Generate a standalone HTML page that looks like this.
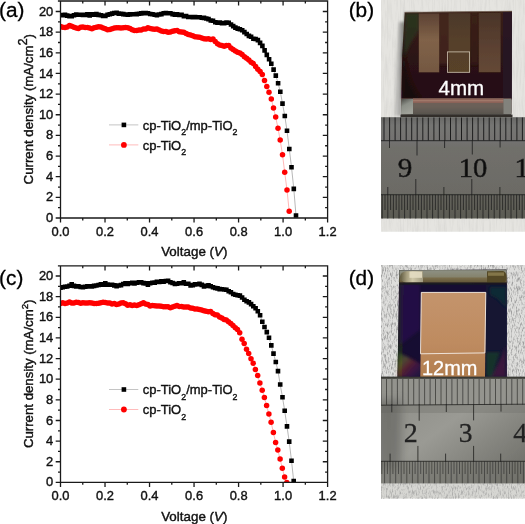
<!DOCTYPE html>
<html><head><meta charset="utf-8"><title>Figure</title>
<style>
html,body{margin:0;padding:0;background:#fff;}
svg{display:block;}
text{font-family:"Liberation Sans",sans-serif;fill:#111;}
.tk text{font-size:13.6px;stroke:#111;stroke-width:0.4px;}
.lb{font-size:13px;stroke:#111;stroke-width:0.4px;}
.lg{font-size:13.6px;stroke:#111;stroke-width:0.4px;}
.pl{font-size:21px;fill:#000;stroke:#000;stroke-width:0.3px;}
</style></head><body>
<svg width="525" height="524" viewBox="0 0 525 524">
<defs><clipPath id="ca"><rect x="60.5" y="1.2" width="267" height="216.8"/></clipPath><clipPath id="cc"><rect x="60.5" y="266" width="267" height="216.4"/></clipPath></defs>
<rect width="525" height="524" fill="#fff"/>
<defs>
<clipPath id="cpb"><rect x="381" y="0" width="144" height="231.7"/></clipPath>
<clipPath id="cpd"><rect x="381" y="264.9" width="144" height="233.5"/></clipPath>
<filter id="b1" x="-10%" y="-10%" width="120%" height="120%"><feGaussianBlur stdDeviation="0.6"/></filter>
<filter id="b0" x="-5%" y="-5%" width="110%" height="110%"><feGaussianBlur stdDeviation="0.35"/></filter>
<filter id="b2" x="-20%" y="-20%" width="140%" height="140%"><feGaussianBlur stdDeviation="1.6"/></filter>
<filter id="b4" x="-30%" y="-30%" width="160%" height="160%"><feGaussianBlur stdDeviation="4"/></filter>
<filter id="paperb" x="0" y="0" width="100%" height="100%"><feTurbulence type="fractalNoise" baseFrequency="0.55 0.05" numOctaves="2" seed="3" result="n"/><feColorMatrix in="n" type="matrix" values="0 0 0 0 0.45  0 0 0 0 0.45  0 0 0 0 0.43  0.9 0 0 0 -0.38"/></filter>
<filter id="paperd" x="0" y="0" width="100%" height="100%"><feTurbulence type="fractalNoise" baseFrequency="0.8 0.22" numOctaves="3" seed="7" result="n"/><feColorMatrix in="n" type="matrix" values="0 0 0 0 0.3  0 0 0 0 0.3  0 0 0 0 0.3  3.2 0 0 0 -1.45"/></filter>
<linearGradient id="gs1" x1="0" y1="0" x2="0" y2="1"><stop offset="0" stop-color="#5c4234"/><stop offset="0.45" stop-color="#806248"/><stop offset="1" stop-color="#745842"/></linearGradient>
<linearGradient id="gs2" x1="0" y1="0" x2="0" y2="1"><stop offset="0" stop-color="#4c382a"/><stop offset="0.5" stop-color="#56402a"/><stop offset="1" stop-color="#584228"/></linearGradient>
<linearGradient id="gs3" x1="0" y1="0" x2="0" y2="1"><stop offset="0" stop-color="#4a3428"/><stop offset="0.6" stop-color="#5c4232"/><stop offset="1" stop-color="#644836"/></linearGradient>
<linearGradient id="gdev" x1="0" y1="0" x2="0" y2="1"><stop offset="0" stop-color="#3a2018"/><stop offset="0.5" stop-color="#2a1212"/><stop offset="1" stop-color="#220c12"/></linearGradient>
<linearGradient id="gshl" x1="0" y1="0" x2="1" y2="0"><stop offset="0" stop-color="#8c8c8a" stop-opacity="0.15"/><stop offset="1" stop-color="#767674" stop-opacity="0.95"/></linearGradient>
<linearGradient id="grb" x1="0" y1="0" x2="0" y2="1"><stop offset="0" stop-color="#686866"/><stop offset="0.08" stop-color="#757573"/><stop offset="0.24" stop-color="#737270"/><stop offset="0.3" stop-color="#706f6b"/><stop offset="0.75" stop-color="#6c6b65"/><stop offset="0.78" stop-color="#63625b"/><stop offset="1" stop-color="#5b5b53"/></linearGradient>
<linearGradient id="grd" x1="0" y1="0" x2="1" y2="1"><stop offset="0" stop-color="#8a8a84"/><stop offset="0.45" stop-color="#9a9a94"/><stop offset="1" stop-color="#6a6a64"/></linearGradient>
<linearGradient id="gcu" x1="0" y1="0" x2="0" y2="1"><stop offset="0" stop-color="#c4946c"/><stop offset="0.6" stop-color="#be8b60"/><stop offset="1" stop-color="#b27e4e"/></linearGradient>
<linearGradient id="gtop" x1="0" y1="0" x2="0" y2="1"><stop offset="0" stop-color="#74766a"/><stop offset="0.15" stop-color="#8c8e80"/><stop offset="0.5" stop-color="#86846e"/><stop offset="0.62" stop-color="#786c4a"/><stop offset="0.88" stop-color="#65583a"/><stop offset="1" stop-color="#2e2a22"/></linearGradient>
<linearGradient id="gtl" x1="0" y1="0" x2="1" y2="0"><stop offset="0" stop-color="#5e583e"/><stop offset="0.3" stop-color="#a8a080"/><stop offset="0.55" stop-color="#cfc7a8"/><stop offset="1" stop-color="#a29c82"/></linearGradient>
<linearGradient id="grain" x1="0" y1="0" x2="1" y2="1"><stop offset="0" stop-color="#1a5a30"/><stop offset="0.3" stop-color="#a0a030"/><stop offset="0.5" stop-color="#b04030"/><stop offset="0.7" stop-color="#702060"/><stop offset="1" stop-color="#201850"/></linearGradient>
<linearGradient id="ggl" x1="0" y1="0" x2="0" y2="1"><stop offset="0" stop-color="#726058"/><stop offset="0.5" stop-color="#6a6058"/><stop offset="1" stop-color="#55524c"/></linearGradient>
<linearGradient id="gcl" x1="0" y1="0" x2="0.4" y2="1"><stop offset="0" stop-color="#4a4a46"/><stop offset="0.45" stop-color="#8c9088"/><stop offset="1" stop-color="#a0a29a"/></linearGradient>
</defs>
<g clip-path="url(#cpb)">
<rect x="381" y="0" width="144" height="232" fill="#e5e4e0"/>
<rect x="381" y="0" width="144" height="232" filter="url(#paperb)" opacity="0.55"/>
<path d="M399 22L405 22L402 116L393.5 116Z" fill="url(#gshl)" filter="url(#b2)"/>
<g filter="url(#b1)">
<path d="M404.7 12.2L512 11L511.4 113.5L401 114.2L402.2 55Z" fill="url(#gdev)"/>
<rect x="438" y="14" width="12" height="50" fill="#4a2a20" opacity="0.7" filter="url(#b2)"/>
<rect x="470" y="14" width="9" height="50" fill="#3a2018" opacity="0.6" filter="url(#b2)"/>
<path d="M405 13L419 13L419 30Q409 45 403 60Z" fill="#2a3420" opacity="0.8" filter="url(#b2)"/>
<path d="M403 40Q404 80 420 99L402 99Z" fill="#160808" opacity="0.8" filter="url(#b2)"/>
<rect x="418.8" y="13.5" width="20.4" height="58.8" fill="url(#gs1)"/>
<rect x="448.6" y="13.2" width="21.6" height="59" fill="url(#gs2)"/>
<rect x="478.8" y="13" width="21.8" height="59.2" fill="url(#gs3)"/>
<path d="M404.7 12.4L512 11.2" stroke="#7a6a5c" stroke-width="0.9" opacity="0.8"/>
<rect x="503" y="12" width="9" height="88" fill="#281422" opacity="0.9"/>
<path d="M401 98.6L511.5 98.2L511.4 115L401 115.4Z" fill="url(#ggl)"/>
<rect x="413" y="98.4" width="90.5" height="4.6" fill="#8c6458"/>
<rect x="413" y="100.2" width="90.5" height="1.1" fill="#ae8676" opacity="0.8"/>
<path d="M401.5 99L413 99L413 114L401 114.6Z" fill="url(#gcl)"/>
<path d="M503.5 99L511.5 99L511.4 114L503.5 114Z" fill="#82827c"/>
<rect x="400.5" y="114.6" width="112" height="2.8" fill="#302f2b"/>
</g>
<rect x="447.4" y="51.9" width="22.2" height="20.4" fill="none" stroke="#cfc5b2" stroke-width="0.8"/>
<g filter="url(#b0)">
<rect x="381" y="117.2" width="144" height="101.3" fill="url(#grb)"/>
<path d="M378.5 117.5V140.6M384.0 117.5V140.6M389.6 117.5V140.6M395.1 117.5V140.6M400.6 117.5V140.6M406.2 117.5V140.6M411.7 117.5V140.6M417.2 117.5V140.6M422.8 117.5V140.6M428.3 117.5V140.6M433.9 117.5V140.6M439.4 117.5V140.6M444.9 117.5V140.6M450.5 117.5V140.6M456.0 117.5V140.6M461.5 117.5V140.6M467.1 117.5V140.6M472.6 117.5V140.6M478.1 117.5V140.6M483.7 117.5V140.6M489.2 117.5V140.6M494.7 117.5V140.6M500.3 117.5V140.6M505.8 117.5V140.6M511.3 117.5V140.6M516.9 117.5V140.6M522.4 117.5V140.6" stroke="#161616" stroke-width="1.0" opacity="0.9"/>
<path d="M381 140.7H525" stroke="#1c1c1c" stroke-width="1" opacity="0.85"/>
<path d="M389.5 140V148M444.6 140V148M500.1 140V147.5M417 140V155.5M472.3 140V154.5" stroke="#222" stroke-width="1" opacity="0.85"/>
<path d="M376.6 194.7V218.5M379.4 194.7V210M382.2 194.7V218.5M385.0 194.7V210M387.8 194.7V218.5M390.6 194.7V210M393.4 194.7V218.5M396.2 194.7V210M399.0 194.7V218.5M401.8 194.7V210M404.6 194.7V218.5M407.4 194.7V210M410.2 194.7V218.5M413.0 194.7V210M415.8 194.7V218.5M418.6 194.7V210M421.4 194.7V218.5M424.2 194.7V210M427.0 194.7V218.5M429.8 194.7V210M432.6 194.7V218.5M435.4 194.7V210M438.2 194.7V218.5M441.0 194.7V210M443.8 194.7V218.5M446.6 194.7V210M449.4 194.7V218.5M452.2 194.7V210M455.0 194.7V218.5M457.8 194.7V210M460.6 194.7V218.5M463.4 194.7V210M466.2 194.7V218.5M469.0 194.7V210M471.8 194.7V218.5M474.6 194.7V210M477.4 194.7V218.5M480.2 194.7V210M483.0 194.7V218.5M485.8 194.7V210M488.6 194.7V218.5M491.4 194.7V210M494.2 194.7V218.5M497.0 194.7V210M499.8 194.7V218.5M502.6 194.7V210M505.4 194.7V218.5M508.2 194.7V210M511.0 194.7V218.5M513.8 194.7V210M516.6 194.7V218.5M519.4 194.7V210M522.2 194.7V218.5M525.0 194.7V210" stroke="#1c1c1c" stroke-width="0.95" opacity="0.8"/>
<path d="M381 194.7H525" stroke="#1c1c1c" stroke-width="1.1" opacity="0.85"/>
<path d="M387.8 187V195M443.9 187V195M499.9 187V195M415.8 179V195M471.8 179V195" stroke="#222" stroke-width="1" opacity="0.85"/>
</g>
<g font-family="'Liberation Serif',serif" font-size="26.5" fill="#1a1a1a" filter="url(#b1)">
<text transform="translate(405.1 177) scale(1.1 1)" text-anchor="middle" style="font-family:'Liberation Serif',serif;stroke:#1a1a1a;stroke-width:0.5px">9</text>
<text transform="translate(473.0 177) scale(1.08 1)" text-anchor="middle" style="font-family:'Liberation Serif',serif;stroke:#1a1a1a;stroke-width:0.5px">10</text>
<text transform="translate(514.5 177) scale(1.1 1)" style="font-family:'Liberation Serif',serif;stroke:#1a1a1a;stroke-width:0.5px">1</text>
</g>
<text x="438.6" y="95.4" font-size="20" style="fill:#fff" textLength="45.6" stroke="#fff" stroke-width="0.3" lengthAdjust="spacingAndGlyphs">4mm</text>
</g>
<g clip-path="url(#cpd)">
<rect x="381" y="264" width="144" height="236" fill="#dededc"/>
<rect x="381" y="264" width="144" height="236" filter="url(#paperd)" opacity="0.85"/>
<g filter="url(#b1)">
<path d="M399.4 270.2L506.7 269.4L506.7 377.5L397.5 377.5Z" fill="#170d30"/>
<path d="M399.4 270L404 270L402 377L397.5 377Z" fill="#202820" opacity="0.9"/>
<path d="M486 284L506.7 284L506.7 377L486 377Z" fill="#131332"/>
<path d="M490 287L506 287L506 308Q499 298 490 295Z" fill="#0e3636" opacity="0.7" filter="url(#b2)"/>
<path d="M400 284L420 284L420 330L400 345Z" fill="#2a1052" opacity="0.6" filter="url(#b2)"/>
<path d="M398 352L421 364L421 377L397.5 377Z" fill="url(#grain)" opacity="0.4" filter="url(#b2)"/>
<path d="M505 345Q500 365 488 377L506 377Z" fill="#6a2048" opacity="0.45" filter="url(#b2)"/>
<path d="M486 352L500 352L492 377L486 377Z" fill="#14402c" opacity="0.7" filter="url(#b2)"/>
<path d="M399.4 270.2L506.7 269.4L506.7 283.6L399.4 283.8Z" fill="url(#gtop)"/>
<path d="M400 277Q400.5 272 406 271.2L423 271L423 282.2L406 282.4Q400.5 282 400 277Z" fill="url(#gtl)"/>
<rect x="409.5" y="271.6" width="12.5" height="6.2" fill="#e4dcc2" opacity="0.9" filter="url(#b1)"/>
<path d="M487 271.2L503 271Q506.5 272 506.5 277Q506.5 282 503 282.8L487 282.8Z" fill="#544a26"/>
<rect x="488" y="272.4" width="16" height="3.4" fill="#8c7e50" opacity="0.85" filter="url(#b1)"/>
<rect x="399.4" y="282.4" width="107.3" height="2.4" fill="#1c1820" opacity="0.8"/>
<path d="M421.2 292.3L485.9 292.3L485 377.5L420.3 377.5Z" fill="url(#gcu)"/>
</g>
<path d="M421.3 292.4L485.8 292.4L484.9 352.9L420.5 353.8Z" fill="none" stroke="#f4ece4" stroke-width="0.9"/>
<g filter="url(#b0)">
<rect x="381" y="378.6" width="144" height="105" fill="url(#grd)"/>
<rect x="381" y="378.6" width="144" height="26" fill="#94948e" opacity="0.9"/>
<rect x="381" y="405" width="144" height="8" fill="#70706a" opacity="0.35"/>
<rect x="377" y="400" width="24" height="70" fill="#5a5a56" opacity="0.55" filter="url(#b4)"/>
<rect x="381" y="461.5" width="144" height="22" fill="#74746e" opacity="0.6"/>
<rect x="381" y="376.6" width="144" height="2.2" fill="#3a3a36"/>
<path d="M381.1 379V404.8M386.5 379V404.8M391.9 379V404.8M397.4 379V404.8M402.8 379V404.8M408.3 379V404.8M413.7 379V404.8M419.2 379V404.8M424.6 379V404.8M430.1 379V404.8M435.5 379V404.8M441.0 379V404.8M446.4 379V404.8M451.9 379V404.8M457.3 379V404.8M462.8 379V404.8M468.2 379V404.8M473.7 379V404.8M479.1 379V404.8M484.6 379V404.8M490.0 379V404.8M495.5 379V404.8M500.9 379V404.8M506.4 379V404.8M511.8 379V404.8M517.3 379V404.8M522.7 379V404.8" stroke="#262624" stroke-width="0.8" opacity="0.8"/>
<path d="M381 405.2L525 404.2" stroke="#262624" stroke-width="1" opacity="0.85"/>
<path d="M391.8 404V412.3M446.3 404V412M501 404V411.6M419.2 404V420.7M473.6 404V420.4" stroke="#262624" stroke-width="1" opacity="0.85"/>
<path d="M379.0 461.3V483.6M381.8 461.3V474M384.6 461.3V483.6M387.4 461.3V474M390.1 461.3V483.6M392.9 461.3V474M395.7 461.3V483.6M398.5 461.3V474M401.2 461.3V483.6M404.0 461.3V474M406.8 461.3V483.6M409.6 461.3V474M412.4 461.3V483.6M415.1 461.3V474M417.9 461.3V483.6M420.7 461.3V474M423.5 461.3V483.6M426.2 461.3V474M429.0 461.3V483.6M431.8 461.3V474M434.6 461.3V483.6M437.3 461.3V474M440.1 461.3V483.6M442.9 461.3V474M445.7 461.3V483.6M448.4 461.3V474M451.2 461.3V483.6M454.0 461.3V474M456.8 461.3V483.6M459.5 461.3V474M462.3 461.3V483.6M465.1 461.3V474M467.9 461.3V483.6M470.6 461.3V474M473.4 461.3V483.6M476.2 461.3V474M479.0 461.3V483.6M481.7 461.3V474M484.5 461.3V483.6M487.3 461.3V474M490.1 461.3V483.6M492.8 461.3V474M495.6 461.3V483.6M498.4 461.3V474M501.2 461.3V483.6M503.9 461.3V474M506.7 461.3V483.6M509.5 461.3V474M512.3 461.3V483.6M515.0 461.3V474M517.8 461.3V483.6M520.6 461.3V474M523.4 461.3V483.6M526.1 461.3V474" stroke="#262624" stroke-width="0.8" opacity="0.7"/>
<path d="M381 461.3H525" stroke="#262624" stroke-width="1" opacity="0.85"/>
<path d="M390.1 453.6V462M445.6 453.6V462M500.7 453.6V462M417.9 445.9V462M473.6 445.9V462" stroke="#262624" stroke-width="1" opacity="0.85"/>
</g>
<rect x="381" y="483.6" width="144" height="15" fill="#d6d6d2"/>
<rect x="381" y="483.6" width="144" height="15" filter="url(#paperd)" opacity="0.6"/>
<g font-size="26.5" fill="#222" filter="url(#b1)">
<text transform="translate(410.8 441.8) scale(1.06 1)" text-anchor="middle" style="font-family:'Liberation Serif',serif;fill:#222;stroke:#222;stroke-width:0.25px">2</text>
<text transform="translate(465.6 441.8) scale(1.04 1)" text-anchor="middle" style="font-family:'Liberation Serif',serif;fill:#222;stroke:#222;stroke-width:0.25px">3</text>
<text transform="translate(513.2 441.8) scale(1.06 1)" style="font-family:'Liberation Serif',serif;fill:#222;stroke:#222;stroke-width:0.25px">4</text>
</g>
<text x="422" y="375" font-size="20" style="fill:#fff" textLength="55.4" stroke="#fff" stroke-width="0.3" lengthAdjust="spacingAndGlyphs">12mm</text>
</g>
<g clip-path="url(#ca)"><polyline fill="none" stroke="#ff9a9a" stroke-width="0.7" points="60.5,26.4 62.7,27.3 65.0,27.6 67.2,27.0 69.5,25.4 71.7,26.3 74.0,27.3 76.2,28.0 78.4,28.4 80.7,27.2 82.9,26.9 85.2,27.6 87.4,27.6 89.6,27.9 91.9,28.7 94.1,27.8 96.4,27.3 98.6,26.8 100.9,26.9 103.1,27.9 105.3,28.8 107.6,29.7 109.8,29.4 112.1,28.8 114.3,27.9 116.6,27.8 118.8,27.7 121.0,28.0 123.3,27.7 125.5,27.4 127.8,27.7 130.0,28.4 132.2,29.8 134.5,30.4 136.7,30.6 139.0,30.1 141.2,30.0 143.5,29.0 145.7,29.1 147.9,27.8 150.2,28.4 152.4,29.0 154.7,29.3 156.9,29.1 159.2,30.1 161.4,31.1 163.6,31.4 165.9,31.4 168.1,32.2 170.4,32.0 172.6,31.3 174.8,30.7 177.1,30.4 179.3,31.7 181.6,32.0 183.8,32.3 186.1,33.5 188.3,34.6 190.5,34.9 192.8,35.8 195.0,36.8 197.3,37.0 199.5,37.3 201.8,37.9 204.0,38.8 206.2,38.9 208.5,38.8 210.7,39.6 213.0,38.9 215.2,41.6 217.5,43.7 219.7,44.9 221.9,45.6 224.2,46.3 226.4,45.4 228.7,45.4 230.9,47.9 233.1,49.4 235.4,51.1 237.6,52.2 239.9,52.9 242.1,54.6 244.4,56.7 246.6,58.3 248.8,60.0 251.1,62.2 253.3,63.6 255.6,66.4 257.8,69.2 260.1,71.5 262.3,74.6 264.5,80.4 266.8,86.4 269.0,92.2 271.3,99.0 273.5,108.0 275.7,117.1 278.0,128.3 280.2,140.1 282.5,154.7 284.7,172.3 287.0,190.1 289.2,211.2"/><circle cx="60.5" cy="26.4" r="2.75" fill="#ff0000"/><circle cx="62.7" cy="27.3" r="2.75" fill="#ff0000"/><circle cx="65.0" cy="27.6" r="2.75" fill="#ff0000"/><circle cx="67.2" cy="27.0" r="2.75" fill="#ff0000"/><circle cx="69.5" cy="25.4" r="2.75" fill="#ff0000"/><circle cx="71.7" cy="26.3" r="2.75" fill="#ff0000"/><circle cx="74.0" cy="27.3" r="2.75" fill="#ff0000"/><circle cx="76.2" cy="28.0" r="2.75" fill="#ff0000"/><circle cx="78.4" cy="28.4" r="2.75" fill="#ff0000"/><circle cx="80.7" cy="27.2" r="2.75" fill="#ff0000"/><circle cx="82.9" cy="26.9" r="2.75" fill="#ff0000"/><circle cx="85.2" cy="27.6" r="2.75" fill="#ff0000"/><circle cx="87.4" cy="27.6" r="2.75" fill="#ff0000"/><circle cx="89.6" cy="27.9" r="2.75" fill="#ff0000"/><circle cx="91.9" cy="28.7" r="2.75" fill="#ff0000"/><circle cx="94.1" cy="27.8" r="2.75" fill="#ff0000"/><circle cx="96.4" cy="27.3" r="2.75" fill="#ff0000"/><circle cx="98.6" cy="26.8" r="2.75" fill="#ff0000"/><circle cx="100.9" cy="26.9" r="2.75" fill="#ff0000"/><circle cx="103.1" cy="27.9" r="2.75" fill="#ff0000"/><circle cx="105.3" cy="28.8" r="2.75" fill="#ff0000"/><circle cx="107.6" cy="29.7" r="2.75" fill="#ff0000"/><circle cx="109.8" cy="29.4" r="2.75" fill="#ff0000"/><circle cx="112.1" cy="28.8" r="2.75" fill="#ff0000"/><circle cx="114.3" cy="27.9" r="2.75" fill="#ff0000"/><circle cx="116.6" cy="27.8" r="2.75" fill="#ff0000"/><circle cx="118.8" cy="27.7" r="2.75" fill="#ff0000"/><circle cx="121.0" cy="28.0" r="2.75" fill="#ff0000"/><circle cx="123.3" cy="27.7" r="2.75" fill="#ff0000"/><circle cx="125.5" cy="27.4" r="2.75" fill="#ff0000"/><circle cx="127.8" cy="27.7" r="2.75" fill="#ff0000"/><circle cx="130.0" cy="28.4" r="2.75" fill="#ff0000"/><circle cx="132.2" cy="29.8" r="2.75" fill="#ff0000"/><circle cx="134.5" cy="30.4" r="2.75" fill="#ff0000"/><circle cx="136.7" cy="30.6" r="2.75" fill="#ff0000"/><circle cx="139.0" cy="30.1" r="2.75" fill="#ff0000"/><circle cx="141.2" cy="30.0" r="2.75" fill="#ff0000"/><circle cx="143.5" cy="29.0" r="2.75" fill="#ff0000"/><circle cx="145.7" cy="29.1" r="2.75" fill="#ff0000"/><circle cx="147.9" cy="27.8" r="2.75" fill="#ff0000"/><circle cx="150.2" cy="28.4" r="2.75" fill="#ff0000"/><circle cx="152.4" cy="29.0" r="2.75" fill="#ff0000"/><circle cx="154.7" cy="29.3" r="2.75" fill="#ff0000"/><circle cx="156.9" cy="29.1" r="2.75" fill="#ff0000"/><circle cx="159.2" cy="30.1" r="2.75" fill="#ff0000"/><circle cx="161.4" cy="31.1" r="2.75" fill="#ff0000"/><circle cx="163.6" cy="31.4" r="2.75" fill="#ff0000"/><circle cx="165.9" cy="31.4" r="2.75" fill="#ff0000"/><circle cx="168.1" cy="32.2" r="2.75" fill="#ff0000"/><circle cx="170.4" cy="32.0" r="2.75" fill="#ff0000"/><circle cx="172.6" cy="31.3" r="2.75" fill="#ff0000"/><circle cx="174.8" cy="30.7" r="2.75" fill="#ff0000"/><circle cx="177.1" cy="30.4" r="2.75" fill="#ff0000"/><circle cx="179.3" cy="31.7" r="2.75" fill="#ff0000"/><circle cx="181.6" cy="32.0" r="2.75" fill="#ff0000"/><circle cx="183.8" cy="32.3" r="2.75" fill="#ff0000"/><circle cx="186.1" cy="33.5" r="2.75" fill="#ff0000"/><circle cx="188.3" cy="34.6" r="2.75" fill="#ff0000"/><circle cx="190.5" cy="34.9" r="2.75" fill="#ff0000"/><circle cx="192.8" cy="35.8" r="2.75" fill="#ff0000"/><circle cx="195.0" cy="36.8" r="2.75" fill="#ff0000"/><circle cx="197.3" cy="37.0" r="2.75" fill="#ff0000"/><circle cx="199.5" cy="37.3" r="2.75" fill="#ff0000"/><circle cx="201.8" cy="37.9" r="2.75" fill="#ff0000"/><circle cx="204.0" cy="38.8" r="2.75" fill="#ff0000"/><circle cx="206.2" cy="38.9" r="2.75" fill="#ff0000"/><circle cx="208.5" cy="38.8" r="2.75" fill="#ff0000"/><circle cx="210.7" cy="39.6" r="2.75" fill="#ff0000"/><circle cx="213.0" cy="38.9" r="2.75" fill="#ff0000"/><circle cx="215.2" cy="41.6" r="2.75" fill="#ff0000"/><circle cx="217.5" cy="43.7" r="2.75" fill="#ff0000"/><circle cx="219.7" cy="44.9" r="2.75" fill="#ff0000"/><circle cx="221.9" cy="45.6" r="2.75" fill="#ff0000"/><circle cx="224.2" cy="46.3" r="2.75" fill="#ff0000"/><circle cx="226.4" cy="45.4" r="2.75" fill="#ff0000"/><circle cx="228.7" cy="45.4" r="2.75" fill="#ff0000"/><circle cx="230.9" cy="47.9" r="2.75" fill="#ff0000"/><circle cx="233.1" cy="49.4" r="2.75" fill="#ff0000"/><circle cx="235.4" cy="51.1" r="2.75" fill="#ff0000"/><circle cx="237.6" cy="52.2" r="2.75" fill="#ff0000"/><circle cx="239.9" cy="52.9" r="2.75" fill="#ff0000"/><circle cx="242.1" cy="54.6" r="2.75" fill="#ff0000"/><circle cx="244.4" cy="56.7" r="2.75" fill="#ff0000"/><circle cx="246.6" cy="58.3" r="2.75" fill="#ff0000"/><circle cx="248.8" cy="60.0" r="2.75" fill="#ff0000"/><circle cx="251.1" cy="62.2" r="2.75" fill="#ff0000"/><circle cx="253.3" cy="63.6" r="2.75" fill="#ff0000"/><circle cx="255.6" cy="66.4" r="2.75" fill="#ff0000"/><circle cx="257.8" cy="69.2" r="2.75" fill="#ff0000"/><circle cx="260.1" cy="71.5" r="2.75" fill="#ff0000"/><circle cx="262.3" cy="74.6" r="2.75" fill="#ff0000"/><circle cx="264.5" cy="80.4" r="2.75" fill="#ff0000"/><circle cx="266.8" cy="86.4" r="2.75" fill="#ff0000"/><circle cx="269.0" cy="92.2" r="2.75" fill="#ff0000"/><circle cx="271.3" cy="99.0" r="2.75" fill="#ff0000"/><circle cx="273.5" cy="108.0" r="2.75" fill="#ff0000"/><circle cx="275.7" cy="117.1" r="2.75" fill="#ff0000"/><circle cx="278.0" cy="128.3" r="2.75" fill="#ff0000"/><circle cx="280.2" cy="140.1" r="2.75" fill="#ff0000"/><circle cx="282.5" cy="154.7" r="2.75" fill="#ff0000"/><circle cx="284.7" cy="172.3" r="2.75" fill="#ff0000"/><circle cx="287.0" cy="190.1" r="2.75" fill="#ff0000"/><circle cx="289.2" cy="211.2" r="2.75" fill="#ff0000"/></g>
<g clip-path="url(#ca)"><polyline fill="none" stroke="#9a9a9a" stroke-width="0.7" points="60.5,15.0 62.7,15.3 65.0,14.8 67.2,15.6 69.5,16.1 71.7,16.1 74.0,15.2 76.2,14.5 78.4,14.7 80.7,14.8 82.9,14.9 85.2,15.0 87.4,14.3 89.7,15.4 91.9,14.3 94.1,14.7 96.4,14.1 98.6,14.9 100.9,15.3 103.1,16.0 105.4,15.9 107.6,14.8 109.8,14.2 112.1,13.6 114.3,13.0 116.6,12.9 118.8,13.6 121.1,13.8 123.3,14.1 125.5,14.5 127.8,14.7 130.0,14.4 132.3,14.2 134.5,14.2 136.8,14.1 139.0,13.8 141.2,13.4 143.5,13.0 145.7,13.1 148.0,13.2 150.2,14.0 152.5,14.2 154.7,14.7 156.9,15.1 159.2,14.5 161.4,14.1 163.7,13.2 165.9,13.0 168.2,13.2 170.4,13.3 172.6,14.1 174.9,14.6 177.1,14.4 179.4,15.0 181.6,14.8 183.9,16.1 186.1,16.1 188.3,17.0 190.6,17.0 192.8,17.1 195.1,17.1 197.3,17.3 199.6,17.2 201.8,17.7 204.0,17.9 206.3,18.5 208.5,19.1 210.8,20.5 213.0,20.7 215.3,22.2 217.5,22.8 219.7,22.5 222.0,23.2 224.2,23.1 226.5,22.6 228.7,22.8 231.0,24.5 233.2,26.1 235.4,27.6 237.7,28.6 239.9,29.2 242.2,30.3 244.4,32.1 246.7,34.0 248.9,35.9 251.1,36.8 253.4,38.7 255.6,39.0 257.9,40.1 260.1,42.9 262.4,45.9 264.6,50.4 266.8,54.9 269.1,59.3 271.3,63.7 273.6,69.6 275.8,75.6 278.1,83.2 280.3,91.7 282.5,103.6 284.8,116.0 287.0,130.8 289.3,149.0 291.5,167.2 293.8,188.9 296.0,215.5"/><path fill="#000" d="M58.2 12.7h4.6v4.6h-4.6zM60.4 13.0h4.6v4.6h-4.6zM62.7 12.5h4.6v4.6h-4.6zM64.9 13.3h4.6v4.6h-4.6zM67.2 13.8h4.6v4.6h-4.6zM69.4 13.8h4.6v4.6h-4.6zM71.7 12.9h4.6v4.6h-4.6zM73.9 12.2h4.6v4.6h-4.6zM76.1 12.4h4.6v4.6h-4.6zM78.4 12.5h4.6v4.6h-4.6zM80.6 12.6h4.6v4.6h-4.6zM82.9 12.7h4.6v4.6h-4.6zM85.1 12.0h4.6v4.6h-4.6zM87.4 13.1h4.6v4.6h-4.6zM89.6 12.0h4.6v4.6h-4.6zM91.8 12.4h4.6v4.6h-4.6zM94.1 11.8h4.6v4.6h-4.6zM96.3 12.6h4.6v4.6h-4.6zM98.6 13.0h4.6v4.6h-4.6zM100.8 13.7h4.6v4.6h-4.6zM103.1 13.6h4.6v4.6h-4.6zM105.3 12.5h4.6v4.6h-4.6zM107.5 11.9h4.6v4.6h-4.6zM109.8 11.3h4.6v4.6h-4.6zM112.0 10.7h4.6v4.6h-4.6zM114.3 10.6h4.6v4.6h-4.6zM116.5 11.3h4.6v4.6h-4.6zM118.8 11.5h4.6v4.6h-4.6zM121.0 11.8h4.6v4.6h-4.6zM123.2 12.2h4.6v4.6h-4.6zM125.5 12.4h4.6v4.6h-4.6zM127.7 12.1h4.6v4.6h-4.6zM130.0 11.9h4.6v4.6h-4.6zM132.2 11.9h4.6v4.6h-4.6zM134.5 11.8h4.6v4.6h-4.6zM136.7 11.5h4.6v4.6h-4.6zM138.9 11.1h4.6v4.6h-4.6zM141.2 10.7h4.6v4.6h-4.6zM143.4 10.8h4.6v4.6h-4.6zM145.7 10.9h4.6v4.6h-4.6zM147.9 11.7h4.6v4.6h-4.6zM150.2 11.9h4.6v4.6h-4.6zM152.4 12.4h4.6v4.6h-4.6zM154.6 12.8h4.6v4.6h-4.6zM156.9 12.2h4.6v4.6h-4.6zM159.1 11.8h4.6v4.6h-4.6zM161.4 10.9h4.6v4.6h-4.6zM163.6 10.7h4.6v4.6h-4.6zM165.9 10.9h4.6v4.6h-4.6zM168.1 11.0h4.6v4.6h-4.6zM170.3 11.8h4.6v4.6h-4.6zM172.6 12.3h4.6v4.6h-4.6zM174.8 12.1h4.6v4.6h-4.6zM177.1 12.7h4.6v4.6h-4.6zM179.3 12.5h4.6v4.6h-4.6zM181.6 13.8h4.6v4.6h-4.6zM183.8 13.8h4.6v4.6h-4.6zM186.0 14.7h4.6v4.6h-4.6zM188.3 14.7h4.6v4.6h-4.6zM190.5 14.8h4.6v4.6h-4.6zM192.8 14.8h4.6v4.6h-4.6zM195.0 15.0h4.6v4.6h-4.6zM197.3 14.9h4.6v4.6h-4.6zM199.5 15.4h4.6v4.6h-4.6zM201.7 15.6h4.6v4.6h-4.6zM204.0 16.2h4.6v4.6h-4.6zM206.2 16.8h4.6v4.6h-4.6zM208.5 18.2h4.6v4.6h-4.6zM210.7 18.4h4.6v4.6h-4.6zM213.0 19.9h4.6v4.6h-4.6zM215.2 20.5h4.6v4.6h-4.6zM217.4 20.2h4.6v4.6h-4.6zM219.7 20.9h4.6v4.6h-4.6zM221.9 20.8h4.6v4.6h-4.6zM224.2 20.3h4.6v4.6h-4.6zM226.4 20.5h4.6v4.6h-4.6zM228.7 22.2h4.6v4.6h-4.6zM230.9 23.8h4.6v4.6h-4.6zM233.1 25.3h4.6v4.6h-4.6zM235.4 26.3h4.6v4.6h-4.6zM237.6 26.9h4.6v4.6h-4.6zM239.9 28.0h4.6v4.6h-4.6zM242.1 29.8h4.6v4.6h-4.6zM244.4 31.7h4.6v4.6h-4.6zM246.6 33.6h4.6v4.6h-4.6zM248.8 34.5h4.6v4.6h-4.6zM251.1 36.4h4.6v4.6h-4.6zM253.3 36.7h4.6v4.6h-4.6zM255.6 37.8h4.6v4.6h-4.6zM257.8 40.6h4.6v4.6h-4.6zM260.1 43.6h4.6v4.6h-4.6zM262.3 48.1h4.6v4.6h-4.6zM264.5 52.6h4.6v4.6h-4.6zM266.8 57.0h4.6v4.6h-4.6zM269.0 61.4h4.6v4.6h-4.6zM271.3 67.3h4.6v4.6h-4.6zM273.5 73.3h4.6v4.6h-4.6zM275.8 80.9h4.6v4.6h-4.6zM278.0 89.4h4.6v4.6h-4.6zM280.2 101.3h4.6v4.6h-4.6zM282.5 113.7h4.6v4.6h-4.6zM284.7 128.5h4.6v4.6h-4.6zM287.0 146.7h4.6v4.6h-4.6zM289.2 164.9h4.6v4.6h-4.6zM291.5 186.6h4.6v4.6h-4.6zM293.7 213.2h4.6v4.6h-4.6z"/></g>
<path d="M60.5 1.0H327.6V218.0H60.5ZM60.5 1.0h-2.6M60.50 218.0v4.6M60.50 1.0v4.6M82.76 218.0v2.4M82.76 1.0v2.4M105.02 218.0v4.6M105.02 1.0v4.6M127.28 218.0v2.4M127.28 1.0v2.4M149.53 218.0v4.6M149.53 1.0v4.6M171.79 218.0v2.4M171.79 1.0v2.4M194.05 218.0v4.6M194.05 1.0v4.6M216.31 218.0v2.4M216.31 1.0v2.4M238.57 218.0v4.6M238.57 1.0v4.6M260.83 218.0v2.4M260.83 1.0v2.4M283.08 218.0v4.6M283.08 1.0v4.6M305.34 218.0v2.4M305.34 1.0v2.4M327.60 218.0v4.6M327.60 1.0v4.6M60.5 218.00h-4.8M327.6 218.00h-4.8M60.5 207.68h-2.5M327.6 207.68h-2.5M60.5 197.35h-4.8M327.6 197.35h-4.8M60.5 187.03h-2.5M327.6 187.03h-2.5M60.5 176.70h-4.8M327.6 176.70h-4.8M60.5 166.38h-2.5M327.6 166.38h-2.5M60.5 156.05h-4.8M327.6 156.05h-4.8M60.5 145.73h-2.5M327.6 145.73h-2.5M60.5 135.40h-4.8M327.6 135.40h-4.8M60.5 125.08h-2.5M327.6 125.08h-2.5M60.5 114.75h-4.8M327.6 114.75h-4.8M60.5 104.43h-2.5M327.6 104.43h-2.5M60.5 94.10h-4.8M327.6 94.10h-4.8M60.5 83.78h-2.5M327.6 83.78h-2.5M60.5 73.45h-4.8M327.6 73.45h-4.8M60.5 63.12h-2.5M327.6 63.12h-2.5M60.5 52.80h-4.8M327.6 52.80h-4.8M60.5 42.48h-2.5M327.6 42.48h-2.5M60.5 32.15h-4.8M327.6 32.15h-4.8M60.5 21.83h-2.5M327.6 21.83h-2.5M60.5 11.50h-4.8M327.6 11.50h-4.8" fill="none" stroke="#1a1a1a" stroke-width="1.3"/><g class="tk"><text x="60.5" y="235.6" text-anchor="middle" transform="translate(60.5 0) scale(0.95 1) translate(-60.5 0)">0.0</text><text x="105.0" y="235.6" text-anchor="middle" transform="translate(105.0 0) scale(0.95 1) translate(-105.0 0)">0.2</text><text x="149.5" y="235.6" text-anchor="middle" transform="translate(149.5 0) scale(0.95 1) translate(-149.5 0)">0.4</text><text x="194.1" y="235.6" text-anchor="middle" transform="translate(194.1 0) scale(0.95 1) translate(-194.1 0)">0.6</text><text x="238.6" y="235.6" text-anchor="middle" transform="translate(238.6 0) scale(0.95 1) translate(-238.6 0)">0.8</text><text x="283.1" y="235.6" text-anchor="middle" transform="translate(283.1 0) scale(0.95 1) translate(-283.1 0)">1.0</text><text x="327.6" y="235.6" text-anchor="middle" transform="translate(327.6 0) scale(0.95 1) translate(-327.6 0)">1.2</text><text x="53.3" y="222.1" text-anchor="end" transform="translate(53.3 0) scale(0.95 1) translate(-53.3 0)">0</text><text x="53.3" y="201.4" text-anchor="end" transform="translate(53.3 0) scale(0.95 1) translate(-53.3 0)">2</text><text x="53.3" y="180.8" text-anchor="end" transform="translate(53.3 0) scale(0.95 1) translate(-53.3 0)">4</text><text x="53.3" y="160.2" text-anchor="end" transform="translate(53.3 0) scale(0.95 1) translate(-53.3 0)">6</text><text x="53.3" y="139.5" text-anchor="end" transform="translate(53.3 0) scale(0.95 1) translate(-53.3 0)">8</text><text x="53.3" y="118.8" text-anchor="end" transform="translate(53.3 0) scale(0.95 1) translate(-53.3 0)">10</text><text x="53.3" y="98.2" text-anchor="end" transform="translate(53.3 0) scale(0.95 1) translate(-53.3 0)">12</text><text x="53.3" y="77.6" text-anchor="end" transform="translate(53.3 0) scale(0.95 1) translate(-53.3 0)">14</text><text x="53.3" y="56.9" text-anchor="end" transform="translate(53.3 0) scale(0.95 1) translate(-53.3 0)">16</text><text x="53.3" y="36.3" text-anchor="end" transform="translate(53.3 0) scale(0.95 1) translate(-53.3 0)">18</text><text x="53.3" y="15.6" text-anchor="end" transform="translate(53.3 0) scale(0.95 1) translate(-53.3 0)">20</text></g><text class="lb" x="194.3" y="256.3" text-anchor="middle" transform="translate(194.3 0) scale(1.03 1) translate(-194.3 0)">Voltage (<tspan font-style="italic">V</tspan>)</text><text class="lb" text-anchor="middle" transform="translate(32.9 109.2) rotate(-90) scale(1.017 1)">Current density (mA/cm<tspan dy="-5.8" font-size="12.6">2</tspan><tspan dy="5.8">)</tspan></text>
<path d="M109 124.9H138.3" stroke="#bdbdbd" stroke-width="0.9"/><rect x="121.6" y="122.6" width="4.6" height="4.6" fill="#000"/><path d="M109 144.9H138.3" stroke="#ffb3b3" stroke-width="0.9"/><circle cx="123.9" cy="144.9" r="2.9" fill="#f00"/><text class="lg" transform="translate(142.7 129.5) scale(0.957 1)">cp-TiO<tspan dy="5.6" font-size="9.2">2</tspan><tspan dy="-5.6">/mp-TiO</tspan><tspan dy="5.6" font-size="9.2">2</tspan></text><text class="lg" transform="translate(142.7 149.6) scale(0.957 1)">cp-TiO<tspan dy="5.6" font-size="9.2">2</tspan></text>
<g clip-path="url(#cc)"><polyline fill="none" stroke="#ff9a9a" stroke-width="0.7" points="60.5,303.4 62.7,302.7 65.0,303.4 67.2,303.0 69.5,302.1 71.7,302.9 73.9,302.9 76.2,302.2 78.4,302.6 80.7,303.3 82.9,302.8 85.1,303.1 87.4,303.0 89.6,302.7 91.9,303.1 94.1,303.6 96.3,303.6 98.6,303.3 100.8,302.8 103.1,302.2 105.3,302.5 107.6,303.0 109.8,303.1 112.0,304.1 114.3,303.6 116.5,304.4 118.8,303.9 121.0,303.1 123.2,302.7 125.5,303.7 127.7,305.2 130.0,304.8 132.2,305.4 134.4,305.0 136.7,305.6 138.9,304.8 141.2,303.8 143.4,302.7 145.6,303.9 147.9,304.4 150.1,306.0 152.4,305.5 154.6,305.8 156.8,306.1 159.1,305.9 161.3,306.3 163.6,306.7 165.8,306.8 168.0,306.7 170.3,307.7 172.5,307.0 174.8,306.2 177.0,305.6 179.3,306.4 181.5,306.4 183.7,307.1 186.0,306.9 188.2,307.0 190.5,308.0 192.7,308.2 194.9,308.9 197.2,309.1 199.4,309.6 201.7,309.9 203.9,310.7 206.1,311.2 208.4,311.8 210.6,311.5 212.9,313.4 215.1,314.7 217.3,315.1 219.6,316.9 221.8,317.9 224.1,319.6 226.3,319.9 228.5,321.7 230.8,323.4 233.0,325.6 235.3,327.8 237.5,329.6 239.7,332.8 242.0,339.3 244.2,343.5 246.5,349.2 248.7,353.6 251.0,358.8 253.2,363.3 255.4,369.6 257.7,375.6 259.9,383.0 262.2,390.2 264.4,397.4 266.6,405.6 268.9,414.1 271.1,422.3 273.4,432.5 275.6,442.4 277.8,450.0 280.1,459.1 282.3,468.3 284.6,477.0 286.8,482.6"/><circle cx="60.5" cy="303.4" r="2.75" fill="#ff0000"/><circle cx="62.7" cy="302.7" r="2.75" fill="#ff0000"/><circle cx="65.0" cy="303.4" r="2.75" fill="#ff0000"/><circle cx="67.2" cy="303.0" r="2.75" fill="#ff0000"/><circle cx="69.5" cy="302.1" r="2.75" fill="#ff0000"/><circle cx="71.7" cy="302.9" r="2.75" fill="#ff0000"/><circle cx="73.9" cy="302.9" r="2.75" fill="#ff0000"/><circle cx="76.2" cy="302.2" r="2.75" fill="#ff0000"/><circle cx="78.4" cy="302.6" r="2.75" fill="#ff0000"/><circle cx="80.7" cy="303.3" r="2.75" fill="#ff0000"/><circle cx="82.9" cy="302.8" r="2.75" fill="#ff0000"/><circle cx="85.1" cy="303.1" r="2.75" fill="#ff0000"/><circle cx="87.4" cy="303.0" r="2.75" fill="#ff0000"/><circle cx="89.6" cy="302.7" r="2.75" fill="#ff0000"/><circle cx="91.9" cy="303.1" r="2.75" fill="#ff0000"/><circle cx="94.1" cy="303.6" r="2.75" fill="#ff0000"/><circle cx="96.3" cy="303.6" r="2.75" fill="#ff0000"/><circle cx="98.6" cy="303.3" r="2.75" fill="#ff0000"/><circle cx="100.8" cy="302.8" r="2.75" fill="#ff0000"/><circle cx="103.1" cy="302.2" r="2.75" fill="#ff0000"/><circle cx="105.3" cy="302.5" r="2.75" fill="#ff0000"/><circle cx="107.6" cy="303.0" r="2.75" fill="#ff0000"/><circle cx="109.8" cy="303.1" r="2.75" fill="#ff0000"/><circle cx="112.0" cy="304.1" r="2.75" fill="#ff0000"/><circle cx="114.3" cy="303.6" r="2.75" fill="#ff0000"/><circle cx="116.5" cy="304.4" r="2.75" fill="#ff0000"/><circle cx="118.8" cy="303.9" r="2.75" fill="#ff0000"/><circle cx="121.0" cy="303.1" r="2.75" fill="#ff0000"/><circle cx="123.2" cy="302.7" r="2.75" fill="#ff0000"/><circle cx="125.5" cy="303.7" r="2.75" fill="#ff0000"/><circle cx="127.7" cy="305.2" r="2.75" fill="#ff0000"/><circle cx="130.0" cy="304.8" r="2.75" fill="#ff0000"/><circle cx="132.2" cy="305.4" r="2.75" fill="#ff0000"/><circle cx="134.4" cy="305.0" r="2.75" fill="#ff0000"/><circle cx="136.7" cy="305.6" r="2.75" fill="#ff0000"/><circle cx="138.9" cy="304.8" r="2.75" fill="#ff0000"/><circle cx="141.2" cy="303.8" r="2.75" fill="#ff0000"/><circle cx="143.4" cy="302.7" r="2.75" fill="#ff0000"/><circle cx="145.6" cy="303.9" r="2.75" fill="#ff0000"/><circle cx="147.9" cy="304.4" r="2.75" fill="#ff0000"/><circle cx="150.1" cy="306.0" r="2.75" fill="#ff0000"/><circle cx="152.4" cy="305.5" r="2.75" fill="#ff0000"/><circle cx="154.6" cy="305.8" r="2.75" fill="#ff0000"/><circle cx="156.8" cy="306.1" r="2.75" fill="#ff0000"/><circle cx="159.1" cy="305.9" r="2.75" fill="#ff0000"/><circle cx="161.3" cy="306.3" r="2.75" fill="#ff0000"/><circle cx="163.6" cy="306.7" r="2.75" fill="#ff0000"/><circle cx="165.8" cy="306.8" r="2.75" fill="#ff0000"/><circle cx="168.0" cy="306.7" r="2.75" fill="#ff0000"/><circle cx="170.3" cy="307.7" r="2.75" fill="#ff0000"/><circle cx="172.5" cy="307.0" r="2.75" fill="#ff0000"/><circle cx="174.8" cy="306.2" r="2.75" fill="#ff0000"/><circle cx="177.0" cy="305.6" r="2.75" fill="#ff0000"/><circle cx="179.3" cy="306.4" r="2.75" fill="#ff0000"/><circle cx="181.5" cy="306.4" r="2.75" fill="#ff0000"/><circle cx="183.7" cy="307.1" r="2.75" fill="#ff0000"/><circle cx="186.0" cy="306.9" r="2.75" fill="#ff0000"/><circle cx="188.2" cy="307.0" r="2.75" fill="#ff0000"/><circle cx="190.5" cy="308.0" r="2.75" fill="#ff0000"/><circle cx="192.7" cy="308.2" r="2.75" fill="#ff0000"/><circle cx="194.9" cy="308.9" r="2.75" fill="#ff0000"/><circle cx="197.2" cy="309.1" r="2.75" fill="#ff0000"/><circle cx="199.4" cy="309.6" r="2.75" fill="#ff0000"/><circle cx="201.7" cy="309.9" r="2.75" fill="#ff0000"/><circle cx="203.9" cy="310.7" r="2.75" fill="#ff0000"/><circle cx="206.1" cy="311.2" r="2.75" fill="#ff0000"/><circle cx="208.4" cy="311.8" r="2.75" fill="#ff0000"/><circle cx="210.6" cy="311.5" r="2.75" fill="#ff0000"/><circle cx="212.9" cy="313.4" r="2.75" fill="#ff0000"/><circle cx="215.1" cy="314.7" r="2.75" fill="#ff0000"/><circle cx="217.3" cy="315.1" r="2.75" fill="#ff0000"/><circle cx="219.6" cy="316.9" r="2.75" fill="#ff0000"/><circle cx="221.8" cy="317.9" r="2.75" fill="#ff0000"/><circle cx="224.1" cy="319.6" r="2.75" fill="#ff0000"/><circle cx="226.3" cy="319.9" r="2.75" fill="#ff0000"/><circle cx="228.5" cy="321.7" r="2.75" fill="#ff0000"/><circle cx="230.8" cy="323.4" r="2.75" fill="#ff0000"/><circle cx="233.0" cy="325.6" r="2.75" fill="#ff0000"/><circle cx="235.3" cy="327.8" r="2.75" fill="#ff0000"/><circle cx="237.5" cy="329.6" r="2.75" fill="#ff0000"/><circle cx="239.7" cy="332.8" r="2.75" fill="#ff0000"/><circle cx="242.0" cy="339.3" r="2.75" fill="#ff0000"/><circle cx="244.2" cy="343.5" r="2.75" fill="#ff0000"/><circle cx="246.5" cy="349.2" r="2.75" fill="#ff0000"/><circle cx="248.7" cy="353.6" r="2.75" fill="#ff0000"/><circle cx="251.0" cy="358.8" r="2.75" fill="#ff0000"/><circle cx="253.2" cy="363.3" r="2.75" fill="#ff0000"/><circle cx="255.4" cy="369.6" r="2.75" fill="#ff0000"/><circle cx="257.7" cy="375.6" r="2.75" fill="#ff0000"/><circle cx="259.9" cy="383.0" r="2.75" fill="#ff0000"/><circle cx="262.2" cy="390.2" r="2.75" fill="#ff0000"/><circle cx="264.4" cy="397.4" r="2.75" fill="#ff0000"/><circle cx="266.6" cy="405.6" r="2.75" fill="#ff0000"/><circle cx="268.9" cy="414.1" r="2.75" fill="#ff0000"/><circle cx="271.1" cy="422.3" r="2.75" fill="#ff0000"/><circle cx="273.4" cy="432.5" r="2.75" fill="#ff0000"/><circle cx="275.6" cy="442.4" r="2.75" fill="#ff0000"/><circle cx="277.8" cy="450.0" r="2.75" fill="#ff0000"/><circle cx="280.1" cy="459.1" r="2.75" fill="#ff0000"/><circle cx="282.3" cy="468.3" r="2.75" fill="#ff0000"/><circle cx="284.6" cy="477.0" r="2.75" fill="#ff0000"/><circle cx="286.8" cy="482.6" r="2.75" fill="#ff0000"/></g>
<g clip-path="url(#cc)"><polyline fill="none" stroke="#9a9a9a" stroke-width="0.7" points="60.5,287.6 62.7,287.2 65.0,286.8 67.2,286.5 69.5,285.7 71.7,284.4 74.0,285.9 76.2,286.5 78.4,286.4 80.7,287.0 82.9,287.2 85.2,286.7 87.4,286.4 89.7,286.3 91.9,286.4 94.1,285.9 96.4,285.5 98.6,285.0 100.9,284.4 103.1,284.6 105.3,283.3 107.6,284.6 109.8,284.7 112.1,284.8 114.3,285.4 116.6,286.1 118.8,285.5 121.0,285.1 123.3,284.0 125.5,283.4 127.8,284.0 130.0,283.2 132.3,282.7 134.5,283.5 136.7,282.8 139.0,282.2 141.2,282.4 143.5,283.1 145.7,283.4 147.9,284.6 150.2,283.2 152.4,282.8 154.7,282.6 156.9,281.9 159.2,282.0 161.4,281.3 163.6,281.8 165.9,281.0 168.1,280.8 170.4,282.2 172.6,283.0 174.9,283.9 177.1,283.8 179.3,283.3 181.6,283.2 183.8,282.4 186.1,283.7 188.3,283.8 190.6,285.4 192.8,285.1 195.0,284.4 197.3,284.3 199.5,283.8 201.8,284.9 204.0,286.4 206.2,285.9 208.5,285.4 210.7,286.3 213.0,287.2 215.2,288.0 217.5,288.4 219.7,289.1 221.9,289.2 224.2,289.5 226.4,289.7 228.7,291.2 230.9,292.3 233.2,294.0 235.4,294.7 237.6,295.3 239.9,295.6 242.1,297.5 244.4,299.8 246.6,301.2 248.9,302.4 251.1,304.1 253.3,306.3 255.6,308.3 257.8,311.3 260.1,315.3 262.3,321.8 264.6,327.0 266.8,332.1 269.0,337.7 271.3,345.4 273.5,353.6 275.8,362.0 278.0,371.1 280.2,384.5 282.5,397.3 284.7,410.8 287.0,426.4 289.2,441.6 291.5,460.7 293.7,481.0"/><path fill="#000" d="M58.2 285.3h4.6v4.6h-4.6zM60.4 284.9h4.6v4.6h-4.6zM62.7 284.5h4.6v4.6h-4.6zM64.9 284.2h4.6v4.6h-4.6zM67.2 283.4h4.6v4.6h-4.6zM69.4 282.1h4.6v4.6h-4.6zM71.7 283.6h4.6v4.6h-4.6zM73.9 284.2h4.6v4.6h-4.6zM76.1 284.1h4.6v4.6h-4.6zM78.4 284.7h4.6v4.6h-4.6zM80.6 284.9h4.6v4.6h-4.6zM82.9 284.4h4.6v4.6h-4.6zM85.1 284.1h4.6v4.6h-4.6zM87.4 284.0h4.6v4.6h-4.6zM89.6 284.1h4.6v4.6h-4.6zM91.8 283.6h4.6v4.6h-4.6zM94.1 283.2h4.6v4.6h-4.6zM96.3 282.7h4.6v4.6h-4.6zM98.6 282.1h4.6v4.6h-4.6zM100.8 282.3h4.6v4.6h-4.6zM103.0 281.0h4.6v4.6h-4.6zM105.3 282.3h4.6v4.6h-4.6zM107.5 282.4h4.6v4.6h-4.6zM109.8 282.5h4.6v4.6h-4.6zM112.0 283.1h4.6v4.6h-4.6zM114.3 283.8h4.6v4.6h-4.6zM116.5 283.2h4.6v4.6h-4.6zM118.7 282.8h4.6v4.6h-4.6zM121.0 281.7h4.6v4.6h-4.6zM123.2 281.1h4.6v4.6h-4.6zM125.5 281.7h4.6v4.6h-4.6zM127.7 280.9h4.6v4.6h-4.6zM130.0 280.4h4.6v4.6h-4.6zM132.2 281.2h4.6v4.6h-4.6zM134.4 280.5h4.6v4.6h-4.6zM136.7 279.9h4.6v4.6h-4.6zM138.9 280.1h4.6v4.6h-4.6zM141.2 280.8h4.6v4.6h-4.6zM143.4 281.1h4.6v4.6h-4.6zM145.6 282.3h4.6v4.6h-4.6zM147.9 280.9h4.6v4.6h-4.6zM150.1 280.5h4.6v4.6h-4.6zM152.4 280.3h4.6v4.6h-4.6zM154.6 279.6h4.6v4.6h-4.6zM156.9 279.7h4.6v4.6h-4.6zM159.1 279.0h4.6v4.6h-4.6zM161.3 279.5h4.6v4.6h-4.6zM163.6 278.7h4.6v4.6h-4.6zM165.8 278.5h4.6v4.6h-4.6zM168.1 279.9h4.6v4.6h-4.6zM170.3 280.7h4.6v4.6h-4.6zM172.6 281.6h4.6v4.6h-4.6zM174.8 281.5h4.6v4.6h-4.6zM177.0 281.0h4.6v4.6h-4.6zM179.3 280.9h4.6v4.6h-4.6zM181.5 280.1h4.6v4.6h-4.6zM183.8 281.4h4.6v4.6h-4.6zM186.0 281.5h4.6v4.6h-4.6zM188.3 283.1h4.6v4.6h-4.6zM190.5 282.8h4.6v4.6h-4.6zM192.7 282.1h4.6v4.6h-4.6zM195.0 282.0h4.6v4.6h-4.6zM197.2 281.5h4.6v4.6h-4.6zM199.5 282.6h4.6v4.6h-4.6zM201.7 284.1h4.6v4.6h-4.6zM203.9 283.6h4.6v4.6h-4.6zM206.2 283.1h4.6v4.6h-4.6zM208.4 284.0h4.6v4.6h-4.6zM210.7 284.9h4.6v4.6h-4.6zM212.9 285.7h4.6v4.6h-4.6zM215.2 286.1h4.6v4.6h-4.6zM217.4 286.8h4.6v4.6h-4.6zM219.6 286.9h4.6v4.6h-4.6zM221.9 287.2h4.6v4.6h-4.6zM224.1 287.4h4.6v4.6h-4.6zM226.4 288.9h4.6v4.6h-4.6zM228.6 290.0h4.6v4.6h-4.6zM230.9 291.7h4.6v4.6h-4.6zM233.1 292.4h4.6v4.6h-4.6zM235.3 293.0h4.6v4.6h-4.6zM237.6 293.3h4.6v4.6h-4.6zM239.8 295.2h4.6v4.6h-4.6zM242.1 297.5h4.6v4.6h-4.6zM244.3 298.9h4.6v4.6h-4.6zM246.6 300.1h4.6v4.6h-4.6zM248.8 301.8h4.6v4.6h-4.6zM251.0 304.0h4.6v4.6h-4.6zM253.3 306.0h4.6v4.6h-4.6zM255.5 309.0h4.6v4.6h-4.6zM257.8 313.0h4.6v4.6h-4.6zM260.0 319.5h4.6v4.6h-4.6zM262.2 324.7h4.6v4.6h-4.6zM264.5 329.8h4.6v4.6h-4.6zM266.7 335.4h4.6v4.6h-4.6zM269.0 343.1h4.6v4.6h-4.6zM271.2 351.3h4.6v4.6h-4.6zM273.5 359.7h4.6v4.6h-4.6zM275.7 368.8h4.6v4.6h-4.6zM277.9 382.2h4.6v4.6h-4.6zM280.2 395.0h4.6v4.6h-4.6zM282.4 408.5h4.6v4.6h-4.6zM284.7 424.1h4.6v4.6h-4.6zM286.9 439.3h4.6v4.6h-4.6zM289.2 458.4h4.6v4.6h-4.6zM291.4 478.7h4.6v4.6h-4.6z"/></g>
<path d="M60.5 265.8H327.6V482.4H60.5ZM60.5 265.8h-2.6M60.50 482.4v4.6M60.50 265.8v4.6M82.76 482.4v2.4M82.76 265.8v2.4M105.02 482.4v4.6M105.02 265.8v4.6M127.28 482.4v2.4M127.28 265.8v2.4M149.53 482.4v4.6M149.53 265.8v4.6M171.79 482.4v2.4M171.79 265.8v2.4M194.05 482.4v4.6M194.05 265.8v4.6M216.31 482.4v2.4M216.31 265.8v2.4M238.57 482.4v4.6M238.57 265.8v4.6M260.83 482.4v2.4M260.83 265.8v2.4M283.08 482.4v4.6M283.08 265.8v4.6M305.34 482.4v2.4M305.34 265.8v2.4M327.60 482.4v4.6M327.60 265.8v4.6M60.5 482.40h-4.8M327.6 482.40h-4.8M60.5 472.08h-2.5M327.6 472.08h-2.5M60.5 461.76h-4.8M327.6 461.76h-4.8M60.5 451.44h-2.5M327.6 451.44h-2.5M60.5 441.12h-4.8M327.6 441.12h-4.8M60.5 430.80h-2.5M327.6 430.80h-2.5M60.5 420.48h-4.8M327.6 420.48h-4.8M60.5 410.16h-2.5M327.6 410.16h-2.5M60.5 399.84h-4.8M327.6 399.84h-4.8M60.5 389.52h-2.5M327.6 389.52h-2.5M60.5 379.20h-4.8M327.6 379.20h-4.8M60.5 368.88h-2.5M327.6 368.88h-2.5M60.5 358.56h-4.8M327.6 358.56h-4.8M60.5 348.24h-2.5M327.6 348.24h-2.5M60.5 337.92h-4.8M327.6 337.92h-4.8M60.5 327.60h-2.5M327.6 327.60h-2.5M60.5 317.28h-4.8M327.6 317.28h-4.8M60.5 306.96h-2.5M327.6 306.96h-2.5M60.5 296.64h-4.8M327.6 296.64h-4.8M60.5 286.32h-2.5M327.6 286.32h-2.5M60.5 276.00h-4.8M327.6 276.00h-4.8" fill="none" stroke="#1a1a1a" stroke-width="1.3"/><g class="tk"><text x="60.5" y="500.0" text-anchor="middle" transform="translate(60.5 0) scale(0.95 1) translate(-60.5 0)">0.0</text><text x="105.0" y="500.0" text-anchor="middle" transform="translate(105.0 0) scale(0.95 1) translate(-105.0 0)">0.2</text><text x="149.5" y="500.0" text-anchor="middle" transform="translate(149.5 0) scale(0.95 1) translate(-149.5 0)">0.4</text><text x="194.1" y="500.0" text-anchor="middle" transform="translate(194.1 0) scale(0.95 1) translate(-194.1 0)">0.6</text><text x="238.6" y="500.0" text-anchor="middle" transform="translate(238.6 0) scale(0.95 1) translate(-238.6 0)">0.8</text><text x="283.1" y="500.0" text-anchor="middle" transform="translate(283.1 0) scale(0.95 1) translate(-283.1 0)">1.0</text><text x="327.6" y="500.0" text-anchor="middle" transform="translate(327.6 0) scale(0.95 1) translate(-327.6 0)">1.2</text><text x="53.3" y="486.5" text-anchor="end" transform="translate(53.3 0) scale(0.95 1) translate(-53.3 0)">0</text><text x="53.3" y="465.9" text-anchor="end" transform="translate(53.3 0) scale(0.95 1) translate(-53.3 0)">2</text><text x="53.3" y="445.2" text-anchor="end" transform="translate(53.3 0) scale(0.95 1) translate(-53.3 0)">4</text><text x="53.3" y="424.6" text-anchor="end" transform="translate(53.3 0) scale(0.95 1) translate(-53.3 0)">6</text><text x="53.3" y="403.9" text-anchor="end" transform="translate(53.3 0) scale(0.95 1) translate(-53.3 0)">8</text><text x="53.3" y="383.3" text-anchor="end" transform="translate(53.3 0) scale(0.95 1) translate(-53.3 0)">10</text><text x="53.3" y="362.7" text-anchor="end" transform="translate(53.3 0) scale(0.95 1) translate(-53.3 0)">12</text><text x="53.3" y="342.0" text-anchor="end" transform="translate(53.3 0) scale(0.95 1) translate(-53.3 0)">14</text><text x="53.3" y="321.4" text-anchor="end" transform="translate(53.3 0) scale(0.95 1) translate(-53.3 0)">16</text><text x="53.3" y="300.7" text-anchor="end" transform="translate(53.3 0) scale(0.95 1) translate(-53.3 0)">18</text><text x="53.3" y="280.1" text-anchor="end" transform="translate(53.3 0) scale(0.95 1) translate(-53.3 0)">20</text></g><text class="lb" x="194.3" y="520.7" text-anchor="middle" transform="translate(194.3 0) scale(1.03 1) translate(-194.3 0)">Voltage (<tspan font-style="italic">V</tspan>)</text><text class="lb" text-anchor="middle" transform="translate(32.9 373.8) rotate(-90) scale(1.017 1)">Current density (mA/cm<tspan dy="-5.2" font-size="9.5">2</tspan><tspan dy="5.2">)</tspan></text>
<path d="M109 389.5H138.3" stroke="#bdbdbd" stroke-width="0.9"/><rect x="121.6" y="387.2" width="4.6" height="4.6" fill="#000"/><path d="M109 409.5H138.3" stroke="#ffb3b3" stroke-width="0.9"/><circle cx="123.9" cy="409.5" r="2.9" fill="#f00"/><text class="lg" transform="translate(142.7 394.1) scale(0.957 1)">cp-TiO<tspan dy="5.6" font-size="9.2">2</tspan><tspan dy="-5.6">/mp-TiO</tspan><tspan dy="5.6" font-size="9.2">2</tspan></text><text class="lg" transform="translate(142.7 414.2) scale(0.957 1)">cp-TiO<tspan dy="5.6" font-size="9.2">2</tspan></text>
<text class="pl" transform="translate(-0.9 17.3) scale(0.99 1)">(a)</text>
<text class="pl" transform="translate(348.7 16.9) scale(0.99 1)">(b)</text>
<text class="pl" transform="translate(-0.9 285.0) scale(0.99 1)">(c)</text>
<text class="pl" transform="translate(348.7 285.3) scale(0.99 1)">(d)</text>
</svg>
</body></html>
